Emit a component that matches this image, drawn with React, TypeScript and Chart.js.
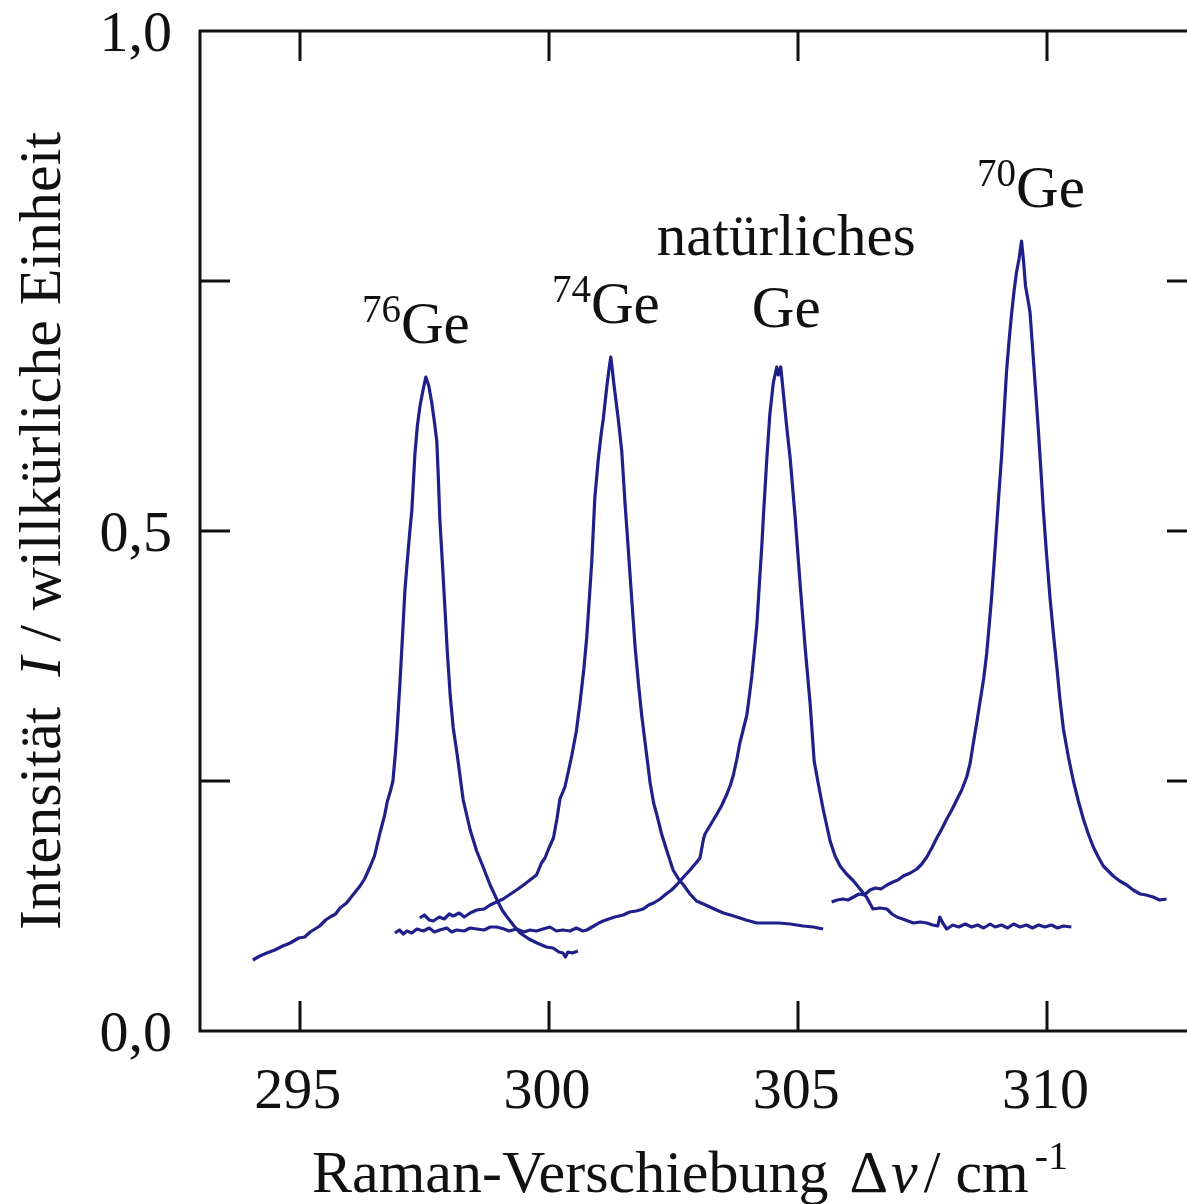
import React, { useEffect, useRef } from "react";
import { Chart, registerables } from "chart.js";

Chart.register(...registerables);

// ---------- data (Raman shift in cm^-1, intensity in arbitrary units) ----------
const ge76: [number, number][] = [
  [294.06, 0.071], [294.2, 0.075], [294.34, 0.078], [294.5, 0.081], [294.66, 0.085], [294.81, 0.088],
  [294.98, 0.093], [295.1, 0.094], [295.21, 0.099], [295.4, 0.105], [295.52, 0.111], [295.61, 0.114],
  [295.72, 0.117], [295.81, 0.123], [295.94, 0.128], [296.05, 0.135], [296.21, 0.145], [296.3, 0.152],
  [296.41, 0.164], [296.5, 0.175], [296.61, 0.198], [296.7, 0.215], [296.76, 0.23], [296.82, 0.24],
  [296.87, 0.25], [296.92, 0.278], [296.95, 0.298], [297.01, 0.347], [297.07, 0.402], [297.11, 0.44],
  [297.15, 0.465], [297.21, 0.5], [297.25, 0.521], [297.31, 0.576], [297.36, 0.605], [297.41, 0.624],
  [297.47, 0.64], [297.53, 0.654], [297.59, 0.645], [297.65, 0.628], [297.7, 0.61], [297.75, 0.59],
  [297.78, 0.555], [297.81, 0.513], [297.86, 0.47], [297.91, 0.426], [297.96, 0.38], [298.02, 0.335],
  [298.08, 0.303], [298.16, 0.276], [298.28, 0.231], [298.42, 0.201], [298.55, 0.18], [298.68, 0.164],
  [298.82, 0.146], [298.96, 0.131], [299.06, 0.121], [299.16, 0.114], [299.3, 0.105], [299.42, 0.098],
  [299.6, 0.092], [299.76, 0.088], [299.95, 0.084], [300.08, 0.083], [300.2, 0.079], [300.28, 0.078],
  [300.33, 0.074], [300.38, 0.079], [300.47, 0.078], [300.58, 0.08],
];

const ge74: [number, number][] = [
  [297.41, 0.113], [297.5, 0.116], [297.6, 0.111], [297.68, 0.11], [297.8, 0.114], [297.9, 0.112],
  [298.0, 0.117], [298.08, 0.115], [298.2, 0.118], [298.3, 0.114], [298.42, 0.118], [298.55, 0.121],
  [298.7, 0.122], [298.82, 0.126], [298.95, 0.129], [299.08, 0.132], [299.2, 0.136], [299.35, 0.141],
  [299.49, 0.146], [299.62, 0.151], [299.75, 0.156], [299.85, 0.168], [299.92, 0.173], [300.0, 0.183],
  [300.09, 0.193], [300.16, 0.212], [300.22, 0.232], [300.32, 0.244], [300.4, 0.262], [300.46, 0.276],
  [300.55, 0.3], [300.62, 0.327], [300.7, 0.362], [300.76, 0.395], [300.82, 0.44], [300.86, 0.47],
  [300.92, 0.533], [300.99, 0.572], [301.05, 0.598], [301.09, 0.612], [301.16, 0.644], [301.2, 0.66],
  [301.24, 0.674], [301.27, 0.662], [301.3, 0.648], [301.39, 0.612], [301.46, 0.58], [301.53, 0.525],
  [301.58, 0.49], [301.63, 0.454], [301.68, 0.418], [301.73, 0.383], [301.8, 0.345], [301.86, 0.316],
  [301.95, 0.28], [302.03, 0.248], [302.1, 0.228], [302.16, 0.217], [302.26, 0.197], [302.36, 0.181],
  [302.49, 0.161], [302.6, 0.152], [302.7, 0.146], [302.83, 0.137], [302.96, 0.13], [303.1, 0.127],
  [303.23, 0.124], [303.36, 0.121], [303.5, 0.118], [303.64, 0.116], [303.77, 0.114], [303.95, 0.111],
  [304.17, 0.108], [304.37, 0.108], [304.6, 0.108], [304.84, 0.107], [305.1, 0.105], [305.3, 0.104],
  [305.5, 0.102],
];

const geNatural: [number, number][] = [
  [296.91, 0.098], [297.0, 0.101], [297.08, 0.097], [297.15, 0.1], [297.25, 0.098], [297.35, 0.102],
  [297.48, 0.1], [297.6, 0.103], [297.7, 0.099], [297.81, 0.101], [297.95, 0.103], [298.05, 0.099],
  [298.15, 0.101], [298.3, 0.1], [298.42, 0.103], [298.55, 0.102], [298.7, 0.101], [298.82, 0.104],
  [298.95, 0.104], [299.1, 0.102], [299.2, 0.1], [299.35, 0.102], [299.5, 0.099], [299.62, 0.101],
  [299.75, 0.1], [299.88, 0.102], [300.02, 0.104], [300.15, 0.1], [300.28, 0.101], [300.42, 0.1],
  [300.55, 0.103], [300.68, 0.1], [300.76, 0.101], [300.9, 0.105], [301.0, 0.108], [301.09, 0.11],
  [301.2, 0.112], [301.32, 0.114], [301.49, 0.116], [301.62, 0.119], [301.75, 0.12], [301.89, 0.122],
  [302.0, 0.126], [302.1, 0.128], [302.23, 0.132], [302.35, 0.137], [302.46, 0.141], [302.56, 0.146],
  [302.7, 0.154], [302.83, 0.161], [302.95, 0.168], [303.03, 0.173], [303.1, 0.192], [303.13, 0.197],
  [303.25, 0.207], [303.37, 0.217], [303.47, 0.226], [303.57, 0.237], [303.64, 0.246], [303.7, 0.256],
  [303.77, 0.272], [303.83, 0.288], [303.9, 0.302], [303.97, 0.316], [304.02, 0.335], [304.07, 0.355],
  [304.12, 0.38], [304.17, 0.406], [304.2, 0.43], [304.23, 0.454], [304.27, 0.485], [304.3, 0.513],
  [304.37, 0.572], [304.43, 0.616], [304.5, 0.648], [304.57, 0.664], [304.6, 0.656], [304.65, 0.664],
  [304.7, 0.639], [304.77, 0.604], [304.84, 0.572], [304.94, 0.513], [305.04, 0.446], [305.14, 0.383],
  [305.24, 0.327], [305.32, 0.27], [305.4, 0.248], [305.5, 0.222], [305.64, 0.19], [305.74, 0.175],
  [305.84, 0.165], [305.97, 0.157], [306.11, 0.15], [306.24, 0.142], [306.37, 0.134], [306.5, 0.122],
  [306.64, 0.123], [306.78, 0.122], [306.88, 0.117], [306.98, 0.114], [307.15, 0.111], [307.31, 0.108],
  [307.45, 0.109], [307.58, 0.108], [307.7, 0.106], [307.8, 0.105], [307.84, 0.114], [307.9, 0.108],
  [307.98, 0.102], [308.1, 0.106], [308.22, 0.104], [308.35, 0.107], [308.48, 0.104], [308.6, 0.106],
  [308.72, 0.103], [308.85, 0.107], [308.95, 0.104], [309.08, 0.106], [309.2, 0.103], [309.32, 0.107],
  [309.45, 0.104], [309.58, 0.106], [309.7, 0.103], [309.82, 0.106], [309.95, 0.104], [310.08, 0.106],
  [310.2, 0.103], [310.32, 0.105], [310.48, 0.104],
];

const ge70: [number, number][] = [
  [305.67, 0.129], [305.78, 0.131], [305.9, 0.132], [306.0, 0.131], [306.11, 0.134], [306.22, 0.137],
  [306.33, 0.136], [306.44, 0.141], [306.55, 0.143], [306.66, 0.142], [306.78, 0.146], [306.9, 0.149],
  [307.0, 0.151], [307.11, 0.155], [307.25, 0.158], [307.38, 0.162], [307.48, 0.167], [307.58, 0.174],
  [307.68, 0.183], [307.78, 0.193], [307.88, 0.202], [307.98, 0.212], [308.08, 0.221], [308.18, 0.231],
  [308.28, 0.241], [308.38, 0.254], [308.45, 0.268], [308.51, 0.287], [308.58, 0.308], [308.65, 0.33],
  [308.72, 0.352], [308.78, 0.377], [308.83, 0.405], [308.88, 0.434], [308.93, 0.468], [308.98, 0.504],
  [309.03, 0.54], [309.08, 0.575], [309.13, 0.618], [309.18, 0.66], [309.23, 0.69], [309.28, 0.717],
  [309.33, 0.74], [309.38, 0.759], [309.43, 0.772], [309.48, 0.79], [309.52, 0.77], [309.56, 0.745],
  [309.62, 0.728], [309.65, 0.719], [309.72, 0.67], [309.77, 0.635], [309.82, 0.599], [309.87, 0.56],
  [309.92, 0.519], [309.98, 0.478], [310.05, 0.434], [310.12, 0.397], [310.19, 0.363], [310.25, 0.332],
  [310.32, 0.302], [310.42, 0.274], [310.52, 0.25], [310.62, 0.23], [310.72, 0.212], [310.82, 0.197],
  [310.92, 0.184], [311.02, 0.174], [311.12, 0.165], [311.22, 0.16], [311.32, 0.155], [311.45, 0.15],
  [311.59, 0.146], [311.72, 0.141], [311.86, 0.137], [311.98, 0.136], [312.12, 0.134], [312.25, 0.131],
  [312.39, 0.132],
];

const xRange = [293, 313];
const yRange = [0, 1];
const xTickValues = [295, 300, 305, 310];
const xTickLabels = ["295", "300", "305", "310"];
const yLabelValues = [0, 0.5, 1.0];
const yLabelTexts = ["0,0", "0,5", "1,0"];
const yTickValues = [0.25, 0.5, 0.75];

// peak labels: [superscript, main text, x (cm^-1), y (intensity of baseline)]
const peakLabels: [string, string, number, number][] = [
  ["76", "Ge", 297.33, 0.688],
  ["74", "Ge", 301.14, 0.708],
  ["", "natürliches", 304.76, 0.776],
  ["", "Ge", 304.76, 0.704],
  ["70", "Ge", 309.67, 0.824],
];

const LINE_COLOR = "#20208a";
const INK = "#111111";
const SERIF = "'Liberation Serif', 'Times New Roman', serif";

type Run = { text: string; font: string; dy?: number; gap?: number };

function drawRuns(ctx: CanvasRenderingContext2D, runs: Run[], x: number, y: number, align: "left" | "center" | "right") {
  let total = 0;
  const widths = runs.map((r) => {
    ctx.font = r.font;
    const w = ctx.measureText(r.text).width + (r.gap || 0);
    total += w;
    return w;
  });
  let cx = align === "left" ? x : align === "center" ? x - total / 2 : x - total;
  ctx.textAlign = "left";
  ctx.textBaseline = "alphabetic";
  runs.forEach((r, i) => {
    ctx.font = r.font;
    ctx.fillText(r.text, cx, y + (r.dy || 0));
    cx += widths[i];
  });
}

const framePlugin = {
  id: "ramanFrame",
  afterDraw(chart: any) {
    const { ctx, chartArea: a, scales } = chart;
    const xs = scales.x;
    const ys = scales.y;
    ctx.save();
    ctx.strokeStyle = INK;
    ctx.fillStyle = INK;
    ctx.lineWidth = 3;
    ctx.lineCap = "butt";
    ctx.strokeRect(a.left, a.top, a.right - a.left, a.bottom - a.top);
    const TL = 30;
    ctx.beginPath();
    xTickValues.forEach((v) => {
      const px = Math.round(xs.getPixelForValue(v));
      ctx.moveTo(px, a.bottom);
      ctx.lineTo(px, a.bottom - TL);
      ctx.moveTo(px, a.top);
      ctx.lineTo(px, a.top + TL);
    });
    yTickValues.forEach((v) => {
      const py = Math.round(ys.getPixelForValue(v));
      ctx.moveTo(a.left, py);
      ctx.lineTo(a.left + TL, py);
      ctx.moveTo(a.right, py);
      ctx.lineTo(a.right - TL, py);
    });
    ctx.stroke();

    // tick labels
    ctx.font = `58px ${SERIF}`;
    ctx.textBaseline = "alphabetic";
    ctx.textAlign = "center";
    xTickValues.forEach((v, i) => {
      ctx.fillText(xTickLabels[i], xs.getPixelForValue(v) - 2, a.bottom + 77);
    });
    ctx.textAlign = "right";
    yLabelValues.forEach((v, i) => {
      ctx.fillText(yLabelTexts[i], a.left - 28, ys.getPixelForValue(v) + 20);
    });

    // x axis title
    const f = `60px ${SERIF}`;
    const fi = `italic 60px ${SERIF}`;
    const fs = `40px ${SERIF}`;
    drawRuns(
      ctx,
      [
        { text: "Raman-Verschiebung ", font: f, gap: 6 },
        { text: "Δ", font: f, gap: 3 },
        { text: "ν", font: fi, gap: 6 },
        { text: "/ cm", font: f, gap: 6 },
        { text: "-1", font: fs, dy: -23 },
      ],
      312,
      a.bottom + 161,
      "left"
    );

    // y axis title (rotated)
    ctx.save();
    ctx.translate(60, (a.top + a.bottom) / 2);
    ctx.rotate(-Math.PI / 2);
    const fy = `60px ${SERIF}`;
    const fyi = `italic 60px ${SERIF}`;
    drawRuns(
      ctx,
      [
        { text: "Intensität  ", font: fy },
        { text: "I", font: fyi },
        { text: " / willkürliche Einheit", font: fy },
      ],
      0,
      0,
      "center"
    );
    ctx.restore();

    // peak labels
    peakLabels.forEach(([sup, main, vx, vy]) => {
      const px = xs.getPixelForValue(vx);
      const py = ys.getPixelForValue(vy);
      const runs: Run[] = [];
      if (sup) runs.push({ text: sup, font: `39px ${SERIF}`, dy: -21 });
      runs.push({ text: main, font: `59px ${SERIF}` });
      drawRuns(ctx, runs, px, py, "center");
    });
    ctx.restore();
  },
};

export default function App() {
  const canvasRef = useRef<HTMLCanvasElement | null>(null);

  useEffect(() => {
    const canvas = canvasRef.current;
    if (!canvas) return;
    const series = [ge76, ge74, geNatural, ge70];
    const names = ["76Ge", "74Ge", "natürliches Ge", "70Ge"];
    const chart = new Chart(canvas, {
      type: "scatter",
      data: {
        datasets: series.map((s, i) => ({
          label: names[i],
          data: s.map(([x, y]) => ({ x, y })),
          showLine: true,
          borderColor: LINE_COLOR,
          backgroundColor: LINE_COLOR,
          borderWidth: 3.2,
          pointRadius: 0,
          tension: 0,
          borderJoinStyle: "round" as const,
        })),
      },
      options: {
        responsive: false,
        animation: false,
        devicePixelRatio: 1,
        layout: { padding: { left: 200, top: 31, right: 13, bottom: 173 } },
        plugins: { legend: { display: false }, tooltip: { enabled: false } },
        scales: {
          x: { type: "linear", min: xRange[0], max: xRange[1], display: false },
          y: { type: "linear", min: yRange[0], max: yRange[1], display: false },
        },
      },
      plugins: [framePlugin],
    });
    return () => chart.destroy();
  }, []);

  return (
    <div
      style={{
        position: "fixed",
        left: 0,
        top: 0,
        width: 1187,
        height: 1204,
        overflow: "hidden",
        background: "#ffffff",
      }}
    >
      <canvas ref={canvasRef} width={1210} height={1204} style={{ display: "block" }} />
    </div>
  );
}
